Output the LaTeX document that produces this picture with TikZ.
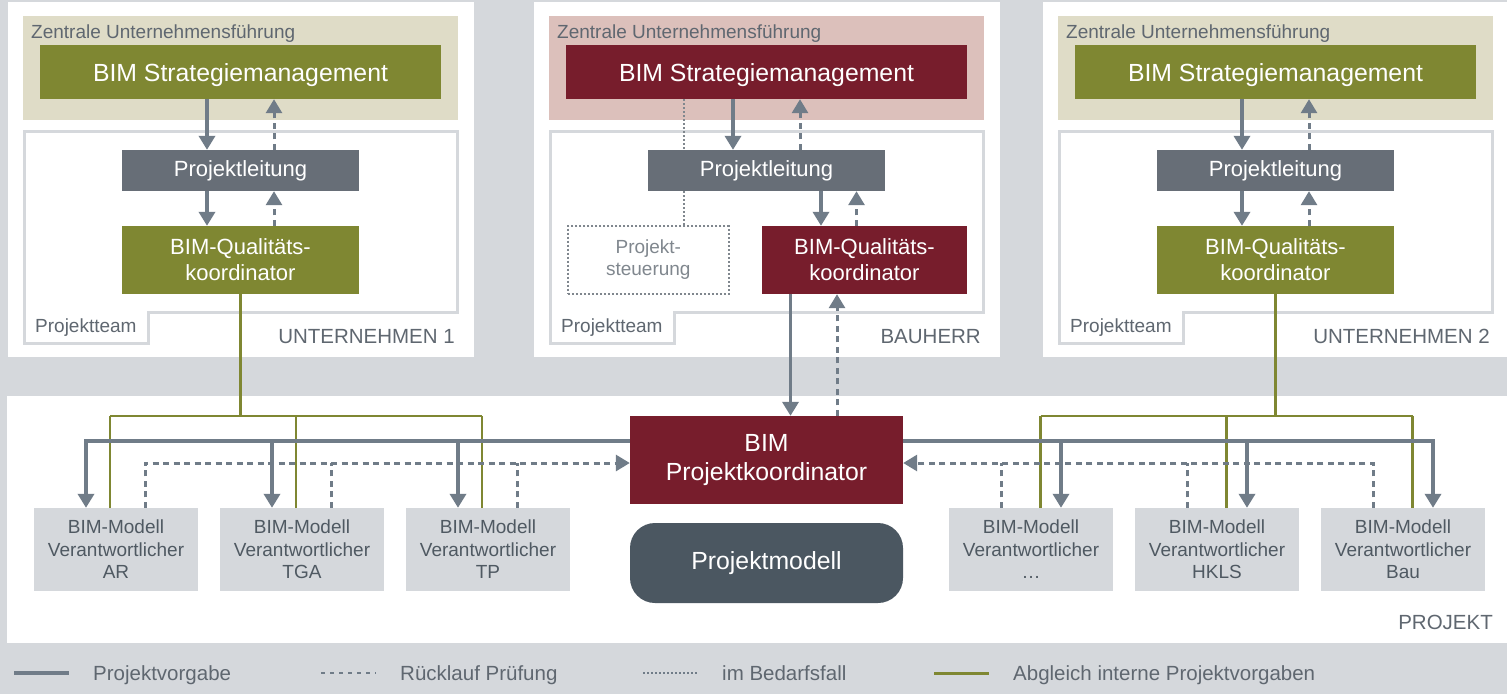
\documentclass[tikz,border=0pt]{standalone}
\usepackage{fontspec}
\setmainfont{Liberation Sans}
\usepackage{tikz}
\usetikzlibrary{arrows.meta,calc}
\definecolor{grund}{HTML}{D5D8DC}
\definecolor{oliv}{HTML}{7F8732}
\definecolor{olivhell}{HTML}{DFDCC7}
\definecolor{weinrot}{HTML}{771D2C}
\definecolor{rosa}{HTML}{DCC0BB}
\definecolor{plgrau}{HTML}{676E77}
\definecolor{pfeil}{HTML}{707C88}
\definecolor{pmgrau}{HTML}{4B5761}
\definecolor{schrift}{HTML}{5F6770}
\definecolor{modelltext}{HTML}{4F5962}
\definecolor{steuer}{HTML}{80878E}
\tikzstyle{box}=[rectangle,inner sep=0pt,align=center,text=white]
\tikzstyle{strategie}=[box,minimum width=401pt,minimum height=54pt,text height=18pt,text depth=0pt,font=\fontsize{24.8}{29}\selectfont]
\tikzstyle{leitung}=[box,fill=plgrau,minimum width=237pt,minimum height=41pt,font=\fontsize{22}{26}\selectfont]
\tikzstyle{qk}=[box,minimum width=237pt,minimum height=68pt,font=\fontsize{22}{26}\selectfont]
\tikzstyle{koord}=[box,fill=weinrot,minimum width=273pt,minimum height=88pt,font=\fontsize{24.8}{29}\selectfont]
\tikzstyle{pmodell}=[box,fill=pmgrau,rounded corners=25pt,minimum width=273pt,minimum height=80pt,font=\fontsize{24.8}{29}\selectfont]
\tikzstyle{modellbox}=[rectangle,inner sep=0pt,align=center,fill=grund,text=modelltext,minimum width=164.5pt,minimum height=83pt,font=\fontsize{19}{22.5}\selectfont]
\tikzstyle{steuerbox}=[rectangle,inner sep=0pt,align=center,draw=steuer,line width=2pt,dash pattern=on 2pt off 2pt,text=steuer,minimum width=161pt,minimum height=67.5pt,font=\fontsize{19}{22}\selectfont]
\tikzstyle{beschrift}=[inner sep=0pt,text=schrift,font=\fontsize{19}{22}\selectfont]
\tikzstyle{titel}=[inner sep=0pt,text=schrift,font=\fontsize{20.5}{24}\selectfont]
\tikzstyle{vorgabe}=[draw=pfeil,line width=3.6pt,-{Triangle[width=16pt,length=14pt]}]
\tikzstyle{ruecklauf}=[draw=pfeil,line width=3pt,dash pattern=on 6pt off 4.5pt,-{Triangle[width=16pt,length=14pt]}]
\tikzstyle{ruecklaufline}=[draw=pfeil,line width=3pt,dash pattern=on 6pt off 4.5pt]
\tikzstyle{bedarf}=[draw=steuer,line width=2pt,dash pattern=on 2pt off 2pt]
\tikzstyle{abgleich}=[draw=oliv,line width=2.5pt]
\begin{document}
\begin{tikzpicture}[x=1pt,y=-1pt]

   \fill[grund] (0,0) rectangle (1507,694);
   \useasboundingbox (0,0) rectangle (1507,694);
   \fill[white] (7,396) rectangle (1507,643);

    % Unternehmen und Bauherr
    \foreach \off/ \name / \title / \kopf / \farbe in {0/u1/UNTERNEHMEN 1/olivhell/oliv, 526/bh/BAUHERR/rosa/weinrot, 1035/u2/UNTERNEHMEN 2/olivhell/oliv} {
        \fill[white] (8+\off,2) rectangle (474+\off,357);
        \fill[\kopf] (23+\off,16) rectangle (458+\off,120);
        \draw[grund,line width=3pt] (24+\off,131) -- (457+\off,131) -- (457+\off,312) -- (148+\off,312) -- (148+\off,343) -- (24+\off,343) -- cycle;
        \node[beschrift,anchor=base west] at (31+\off,38) {Zentrale Unternehmensführung};
        \node[strategie,fill=\farbe] (\name-sm) at (240.5+\off,72) {BIM Strategiemanagement};
        \node[beschrift,anchor=base west] at (35+\off,332) {Projektteam};
        \node[titel,anchor=base east] at (455+\off,343) {\title};
    }

    \node[steuerbox] (steuer) at (648.3,259.8) {Projekt-\\steuerung};
    \coordinate (st-a) at ([xshift=36pt]steuer.north);
    \draw[bedarf] (st-a |- bh-sm.south) -- (st-a);

    \foreach \off/ \name in {0/u1, 526/bh, 1035/u2}
        \node[leitung] (\name-pl) at (240.5+\off,170.5) {Projektleitung};
    \foreach \off/ \name in {0/u1, 1035/u2}
        \node[qk,fill=oliv] (\name-qk) at (240.5+\off,260) {BIM-Qualitäts-\\koordinator};
    \node[qk,fill=weinrot,minimum width=205pt] (bh-qk) at (864.5,260) {BIM-Qualitäts-\\koordinator};

    % Projekt
    \node[koord] (pk) at (766.5,460) {BIM\\Projektkoordinator};
    \node[pmodell] (pm) at (766.5,563) {Projektmodell};
    \node[titel,anchor=base east] at (1493,629) {PROJEKT};

    \foreach \x/ \name / \fach in {116/ar/AR, 302/tga/TGA, 488/tp/TP, 1031/etc/{\dots}, 1217/hkls/HKLS, 1403/bau/Bau}
        \node[modellbox] (\name) at (\x,549.5) {BIM-Modell\\Verantwortlicher\\\fach};

    % Verbindungen in den Projektteams
    \foreach \name in {u1,bh,u2} {
        \draw[vorgabe] ([xshift=-33.5pt]\name-sm.south) -- ([xshift=-33.5pt]\name-pl.north);
        \draw[ruecklauf] ([xshift=33.5pt]\name-pl.north) -- ([xshift=33.5pt]\name-sm.south);
    }
    \foreach \name in {u1,u2} {
        \draw[vorgabe] ([xshift=-33.5pt]\name-pl.south) -- ([xshift=-33.5pt]\name-qk.north);
        \draw[ruecklauf] ([xshift=33.5pt]\name-qk.north) -- ([xshift=33.5pt]\name-pl.south);
    }
    \draw[vorgabe] ([xshift=54.5pt]bh-pl.south) -- ([xshift=-43.5pt]bh-qk.north);
    \draw[ruecklauf] ([xshift=-8pt]bh-qk.north) -- ([xshift=90pt]bh-pl.south);
    \draw[vorgabe] ([xshift=-74pt]bh-qk.south) -- ([xshift=24pt]pk.north);
    \draw[ruecklauf] ([xshift=70.5pt]pk.north) -- ([xshift=-27.5pt]bh-qk.south);

    % Abgleich interne Projektvorgaben
    \coordinate (gl) at ($(u1-qk.south)+(0,121.7)$);
    \coordinate (gr) at ($(u2-qk.south)+(0,121.7)$);
    \foreach \name in {ar,tga,tp}
        \coordinate (\name-g) at ([xshift=-6pt]\name.north);
    \foreach \name in {etc,hkls,bau}
        \coordinate (\name-g) at ([xshift=9.5pt]\name.north);
    \draw[abgleich] (u1-qk.south) -- (gl);
    \draw[abgleich] (u2-qk.south) -- (gr);
    \draw[abgleich] (ar-g |- gl) -- (tp-g |- gl);
    \draw[abgleich] (etc-g |- gr) -- (bau-g |- gr);
    \foreach \name in {ar,tga,tp}
        \draw[abgleich] (\name-g |- gl) -- (\name-g);
    \foreach \name in {etc,hkls,bau}
        \draw[abgleich] (\name-g |- gr) -- (\name-g);

    % Projektvorgabe und Ruecklauf
    \coordinate (vl) at ([yshift=19pt]pk.west);
    \coordinate (rl) at ([yshift=-3pt]pk.west);
    \coordinate (vr) at ([yshift=19pt]pk.east);
    \coordinate (rr) at ([yshift=-3pt]pk.east);
    \foreach \name in {ar,tga,tp} {
        \coordinate (\name-v) at ([xshift=-30pt]\name.north);
        \coordinate (\name-r) at ([xshift=29pt]\name.north);
    }
    \foreach \name in {etc,hkls,bau} {
        \coordinate (\name-v) at ([xshift=30pt]\name.north);
        \coordinate (\name-r) at ([xshift=-30pt]\name.north);
    }
    \draw[vorgabe] (vl) -| (ar-v);
    \draw[vorgabe] (vr) -| (bau-v);
    \foreach \name in {tga,tp,etc,hkls}
        \draw[vorgabe] (\name-v |- vl) -- (\name-v);
    \draw[ruecklauf] (ar-r) |- (rl);
    \draw[ruecklauf] (bau-r) |- (rr);
    \foreach \name in {tga,tp}
        \draw[ruecklaufline] (\name-r) -- (\name-r |- rl);
    \foreach \name in {etc,hkls}
        \draw[ruecklaufline] (\name-r) -- (\name-r |- rr);

    % Legende
    \draw[vorgabe,-] (14,673) -- (69,673);
    \draw[ruecklaufline,line width=2.5pt,dash pattern=on 4pt off 5pt] (321,673) -- (376,673);
    \draw[bedarf,draw=pfeil] (643,673) -- (697,673);
    \draw[abgleich,line width=3pt] (934,673) -- (989,673);
    \foreach \x/ \text in {93/Projektvorgabe, 400/Rücklauf Prüfung, 722/im Bedarfsfall, 1013/Abgleich interne Projektvorgaben}
        \node[titel,anchor=base west] at (\x,680) {\text};

\end{tikzpicture}
\end{document}
